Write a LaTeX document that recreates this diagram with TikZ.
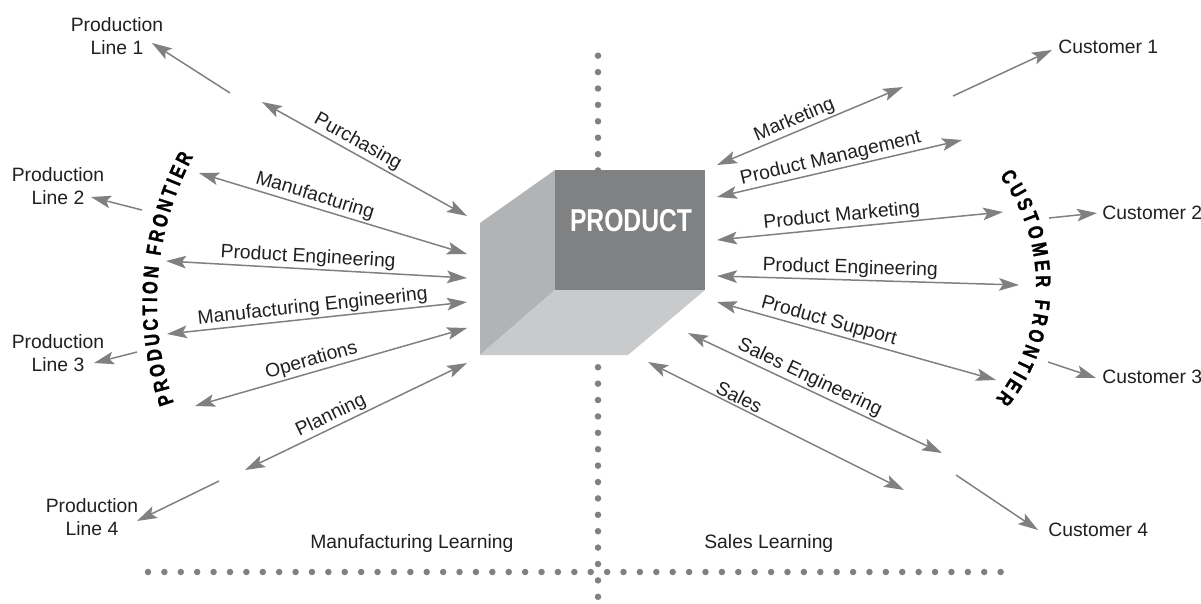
\documentclass[tikz,border=0pt]{standalone}
\usepackage{fontspec}
\setmainfont{Liberation Sans}
\newfontfamily\condfont[FakeStretch=0.78]{Liberation Sans}
\newfontfamily\heavyfont[FakeStretch=0.78, BoldFeatures={FakeBold=1.2}]{Liberation Sans}
\usetikzlibrary{arrows.meta,decorations.text}
\definecolor{linkgray}{RGB}{128,128,128}
\definecolor{frontgray}{RGB}{128,129,131}
\definecolor{leftgray}{RGB}{178,179,181}
\definecolor{bottomgray}{RGB}{201,202,204}
\definecolor{inkblack}{RGB}{35,31,32}
\newcommand\labelfont{\fontsize{11}{13}\selectfont}
\newcommand\frontierfont{\heavyfont\bfseries\fontsize{12}{14}\selectfont}
\tikzset{
  link/.style = {draw=linkgray, line width=0.85pt, {Stealth[length=11.4pt, width=7.2pt, inset=2.4pt]}-{Stealth[length=11.4pt, width=7.2pt, inset=2.4pt]}},
  feed/.style = {draw=linkgray, line width=0.85pt, -{Stealth[length=11.4pt, width=7.2pt, inset=2.4pt]}},
  lbl/.style  = {sloped, above, inner sep=1pt, text=inkblack, font=\labelfont},
  site/.style = {align=center, inner sep=0pt, text=inkblack, font=\labelfont},
  dotline/.style = {draw=linkgray, line width=0.13cm, line cap=round,
                    dash pattern=on 0pt off 0.328cm}
}

\begin{document}
\begin{tikzpicture}[x=0.02cm, y=-0.02cm]
	\useasboundingbox (0,0) rectangle (1201,603);

	% Learning axes
	\draw[dotline] (598,55.7) -- (598,597);
	\draw[dotline] (148,572) -- (1017,572);

	% Cube
	\fill[leftgray]   (555,170) -- (480,223) -- (480,355) -- (555,290) -- cycle;
	\fill[bottomgray] (555,290) -- (705,290) -- (628,355) -- (480,355) -- cycle;
	\fill[frontgray]  (555,170) rectangle (705,290);
	\node[text=white, font=\condfont\bfseries\fontsize{18}{21}\selectfont] (prod) at (631,221) {PRODUCT};

	% Production lines
	\node[site] (line1) at (117,36)  {Production\\Line 1};
	\node[site] (line2) at (58,186)  {Production\\Line 2};
	\node[site] (line3) at (58,353)  {Production\\Line 3};
	\node[site] (line4) at (92,517)  {Production\\Line 4};

	% Customers
	\node[site, anchor=west] (cust1) at (1058,47)  {Customer 1};
	\node[site, anchor=west] (cust2) at (1102,213) {Customer 2};
	\node[site, anchor=west] (cust3) at (1102,377) {Customer 3};
	\node[site, anchor=west] (cust4) at (1048,530) {Customer 4};

	% Learning
	\node[site, anchor=west] (mlearn) at (310,543) {Manufacturing Learning};
	\node[site, anchor=west] (slearn) at (704,543) {Sales Learning};

	% Frontiers
	\path[decorate, decoration={text along path, text align={fit to path},
	      text={|\frontierfont|PRODUCTION FRONTIER}}]
	      (467,302) ++(161:310) arc[start angle=161, end angle=208, radius=310];
	\path[decorate, decoration={text along path, text align={fit to path},
	      text={|\frontierfont|CUSTOMER FRONTIER}}]
	      (855,285) ++(-37:181) arc[start angle=-37, end angle=39, radius=181];

	% Ends of the links
	\coordinate (pur-a)  at (262,102); \coordinate (pur-b)  at (467,216);
	\coordinate (man-a)  at (199,173); \coordinate (man-b)  at (467,254);
	\coordinate (pel-a)  at (166,261); \coordinate (pel-b)  at (467,278);
	\coordinate (meng-a) at (167,334); \coordinate (meng-b) at (467,302);
	\coordinate (ops-a)  at (195,406); \coordinate (ops-b)  at (467,328);
	\coordinate (plan-a) at (245,470); \coordinate (plan-b) at (467,363);
	\coordinate (mkt-a)  at (717,165); \coordinate (mkt-b)  at (903,87);
	\coordinate (pmg-a)  at (717,197); \coordinate (pmg-b)  at (962,140);
	\coordinate (pmk-a)  at (717,240); \coordinate (pmk-b)  at (1003,212);
	\coordinate (per-a)  at (717,276); \coordinate (per-b)  at (1019,285);
	\coordinate (sup-a)  at (717,302); \coordinate (sup-b)  at (996,380);
	\coordinate (seng-a) at (688,333); \coordinate (seng-b) at (942,453);
	\coordinate (sal-a)  at (648,362); \coordinate (sal-b)  at (904,490);
	\coordinate (pl1-a)  at (230,93);  \coordinate (pl2-a)  at (142,210);
	\coordinate (pl3-a)  at (137,352); \coordinate (pl4-a)  at (219,481);
	\coordinate (c1-a)   at (953,96);  \coordinate (c2-a)   at (1049,218);
	\coordinate (c3-a)   at (1048,362); \coordinate (c4-a)  at (956,475);

	% Manufacturing side
	\draw[link] (pur-a)  -- node[lbl, pos=.44] (l-pur)  {Purchasing} (pur-b);
	\draw[link] (man-a)  -- node[lbl, pos=.42] (l-man)  {Manufacturing} (man-b);
	\draw[link] (pel-a)  -- node[lbl, pos=.47] (l-pel)  {Product Engineering} (pel-b);
	\draw[link] (meng-a) -- node[lbl, pos=.49] (l-meng) {Manufacturing Engineering} (meng-b);
	\draw[link] (ops-a)  -- node[lbl, pos=.44] (l-ops)  {Operations} (ops-b);
	\draw[link] (plan-a) -- node[lbl, pos=.41] (l-plan) {Planning} (plan-b);
	\draw[feed] (pl1-a) -- (152,43);
	\draw[feed] (pl2-a) -- (91,197);
	\draw[feed] (pl3-a) -- (94,363);
	\draw[feed] (pl4-a) -- (137,521);

	% Sales side
	\draw[link] (mkt-a)  -- node[lbl, pos=.44]  (l-mkt)  {Marketing} (mkt-b);
	\draw[link] (pmg-a)  -- node[lbl, pos=.475] (l-pmg)  {Product Management} (pmg-b);
	\draw[link] (pmk-a)  -- node[lbl, pos=.44]  (l-pmk)  {Product Marketing} (pmk-b);
	\draw[link] (per-a)  -- node[lbl, pos=.44]  (l-per)  {Product Engineering} (per-b);
	\draw[link] (sup-a)  -- node[lbl, pos=.39]  (l-sup)  {Product Support} (sup-b);
	\draw[link] (seng-a) -- node[lbl, pos=.46]  (l-seng) {Sales Engineering} (seng-b);
	\draw[link] (sal-a)  -- node[lbl, pos=.34]  (l-sal)  {Sales} (sal-b);
	\draw[feed] (c1-a) -- (1052,50);
	\draw[feed] (c2-a) -- (1097,213);
	\draw[feed] (c3-a) -- (1096,378);
	\draw[feed] (c4-a) -- (1038,530);

\end{tikzpicture}
\end{document}
